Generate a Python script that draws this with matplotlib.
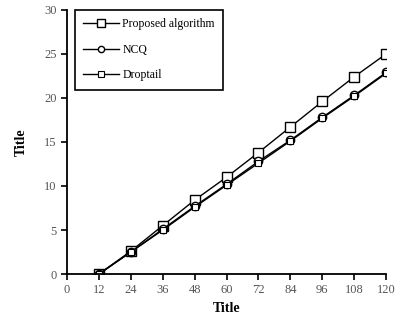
import numpy as np
import matplotlib.pyplot as plt

x = [12, 24, 36, 48, 60, 72, 84, 96, 108, 120]
proposed = [0, 2.6, 5.5, 8.4, 11.0, 13.8, 16.7, 19.6, 22.4, 25.0]
ncq = [0, 2.5, 5.1, 7.7, 10.2, 12.8, 15.2, 17.8, 20.3, 22.9]
droptail = [0, 2.5, 5.0, 7.6, 10.1, 12.6, 15.1, 17.7, 20.2, 22.8]

plt.rcParams['font.family'] = ['Liberation Serif', 'DejaVu Serif']

fig = plt.figure(figsize=(4.01, 3.29), dpi=100)
ax = fig.add_axes([0.167, 0.167, 0.796, 0.803])

ax.plot(x, proposed, color='black', lw=1, marker='s', ms=7, mfc='white', mew=1,
        label='Proposed algorithm')
ax.plot(x, ncq, color='black', lw=1, marker='o', ms=6, mfc='white', mew=1,
        label='NCQ')
ax.plot(x, droptail, color='black', lw=1, marker='s', ms=5, mfc='white', mew=0.8,
        label='Droptail')

ax.set_xlim(0, 120)
ax.set_ylim(0, 30)
ax.set_xticks(np.arange(0, 121, 12))
ax.set_yticks(np.arange(0, 31, 5))
for s in ['top', 'right']:
    ax.spines[s].set_visible(False)
for s in ['left', 'bottom']:
    ax.spines[s].set_linewidth(1.3)
ax.tick_params(direction='out', length=4, width=1.2, labelsize=9, labelcolor='#555555')

ax.set_xlabel('Title', fontsize=10, fontweight='bold')
ax.set_ylabel('Title', fontsize=10, fontweight='bold', labelpad=12)

leg = ax.legend(loc='upper left', bbox_to_anchor=(0.025, 1.0), borderaxespad=0,
                fontsize=8.5, markerscale=0.75, handlelength=3.0, handletextpad=0.3,
                fancybox=False, edgecolor='black', borderpad=0.7,
                labelspacing=1.15, framealpha=1)
leg.get_frame().set_linewidth(1.2)

fig.savefig('out.png', dpi=100)
